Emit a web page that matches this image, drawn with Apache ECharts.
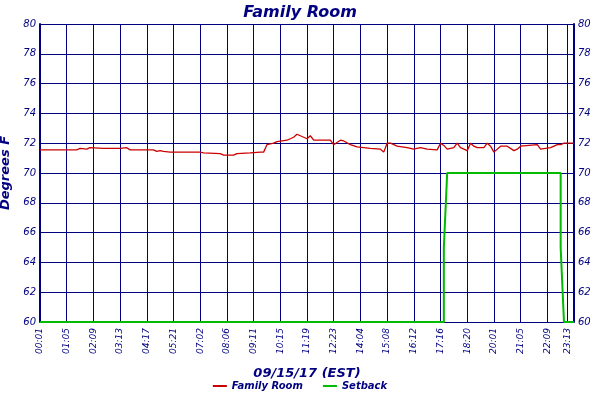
<!DOCTYPE html>
<html>
<head>
<meta charset="utf-8">
<script src="https://cdn.jsdelivr.net/npm/echarts@6/dist/echarts.min.js"></script>
<style>html,body{margin:0;padding:0;background:#fff}#chart{width:600px;height:400px}</style>
</head>
<body>
<div id="chart"></div>
<script>
// tick labels and the sample index where each one sits
var tickLabels = ['00:01', '01:05', '02:09', '03:13', '04:17', '05:21', '07:02', '08:06', '09:11', '10:15', '11:19',
  '12:23', '14:04', '15:08', '16:12', '17:16', '18:20', '20:01', '21:05', '22:09', '23:13', '23:21'];
var tickPos = [0, 8, 16, 24, 32, 40, 48, 56, 64, 72, 80, 88, 96, 104, 112, 120, 128, 136, 144, 152, 158, 160];
// [sample index, degrees F]
var familyRoom = [[0,71.55],[11,71.55],[12,71.65],[14,71.6],[15,71.7],[19,71.65],[24,71.65],[26,71.7],[27,71.55],[34,71.55],
  [35,71.45],[36,71.5],[37,71.45],[39,71.4],[48,71.4],[49,71.35],[54,71.3],[55,71.2],[58,71.2],[59,71.3],[63,71.35],[66,71.4],
  [67,71.4],[68,71.9],[70,72.0],[71,72.1],[74,72.2],[76,72.4],[77,72.6],[78,72.5],[79,72.4],[80,72.3],[81,72.5],[82,72.2],
  [87,72.2],[88,71.9],[90,72.2],[91,72.15],[93,71.9],[95,71.75],[99,71.65],[102,71.6],[103,71.4],[104,72.0],[105,72.0],
  [107,71.8],[110,71.7],[112,71.6],[114,71.7],[116,71.6],[119,71.55],[120,72.0],[121,71.85],[122,71.6],[124,71.7],[125,72.0],
  [126,71.7],[128,71.5],[129,72.0],[130,71.8],[131,71.7],[133,71.7],[134,72.0],[135,71.8],[136,71.4],[138,71.8],[140,71.8],
  [142,71.5],[143,71.6],[144,71.8],[149,71.9],[150,71.6],[153,71.7],[155,71.9],[156,71.9],[157,72.0],[160,72.0]];
var setback = [[0,60],[121,60],[121,65],[122,70],[156,70],[156,65],[157,60],[160,60]];

var navy = '#000080';
var labelAt = {};
for (var i = 0; i < tickLabels.length; i++) labelAt[tickPos[i]] = tickLabels[i];
var cats = [];
for (var k = 0; k <= 160; k++) cats.push(labelAt[k] || '');

function isTick(idx) { return labelAt[idx] !== undefined; }

var chart = echarts.init(document.getElementById('chart'));
var yAxisBase = {
  type: 'value', min: 60, max: 80, interval: 2,
  axisLine: { show: true, lineStyle: { color: navy, width: 2 } },
  axisTick: { show: false },
  axisLabel: { color: navy, fontStyle: 'italic', fontSize: 10, fontFamily: 'DejaVu Sans', margin: 4 },
  splitLine: { show: false }
};
chart.setOption({
  backgroundColor: '#fff',
  animation: false,
  title: {
    text: 'Family Room', left: 'center', top: 0,
    textStyle: { color: navy, fontStyle: 'italic', fontWeight: 'bold', fontSize: 16, fontFamily: 'DejaVu Sans' }
  },
  legend: {
    bottom: 4, left: 'center', itemWidth: 14, itemHeight: 2, itemGap: 20,
    icon: 'rect',
    textStyle: { color: navy, fontStyle: 'italic', fontWeight: 'bold', fontSize: 10, fontFamily: 'DejaVu Sans' },
    data: ['Family Room', 'Setback']
  },
  grid: { left: 40, right: 26, top: 24, bottom: 78, outerBoundsMode: 'none' },
  xAxis: {
    type: 'category', data: cats, boundaryGap: false,
    name: '09/15/17 (EST)', nameLocation: 'middle', nameGap: 45,
    nameTextStyle: { color: navy, fontStyle: 'italic', fontWeight: 'bold', fontSize: 13, fontFamily: 'DejaVu Sans' },
    axisLine: { show: false },
    axisTick: { show: false },
    axisLabel: { interval: function (idx) { return isTick(idx); }, rotate: 90, color: navy, fontStyle: 'italic', fontSize: 9, fontFamily: 'DejaVu Sans', margin: 6 },
    splitLine: { show: true, interval: function (idx) { return isTick(idx); }, lineStyle: { color: navy, width: 1 } }
  },
  yAxis: [
    Object.assign({}, yAxisBase, {
      position: 'left', name: 'Degrees F', nameLocation: 'middle', nameGap: 24,
      nameTextStyle: { color: navy, fontStyle: 'italic', fontWeight: 'bold', fontSize: 13, fontFamily: 'DejaVu Sans' },
      splitLine: { show: true, lineStyle: { color: navy, width: 1 } }
    }),
    Object.assign({}, yAxisBase, { position: 'right' })
  ],
  series: [
    { name: 'Family Room', type: 'line', data: familyRoom, showSymbol: false, color: '#cc0000', lineStyle: { width: 1.3 }, z: 3 },
    { name: 'Setback', type: 'line', data: setback, showSymbol: false, color: '#00bb00', lineStyle: { width: 2 }, z: 2 }
  ]
});
</script>
</body>
</html>
